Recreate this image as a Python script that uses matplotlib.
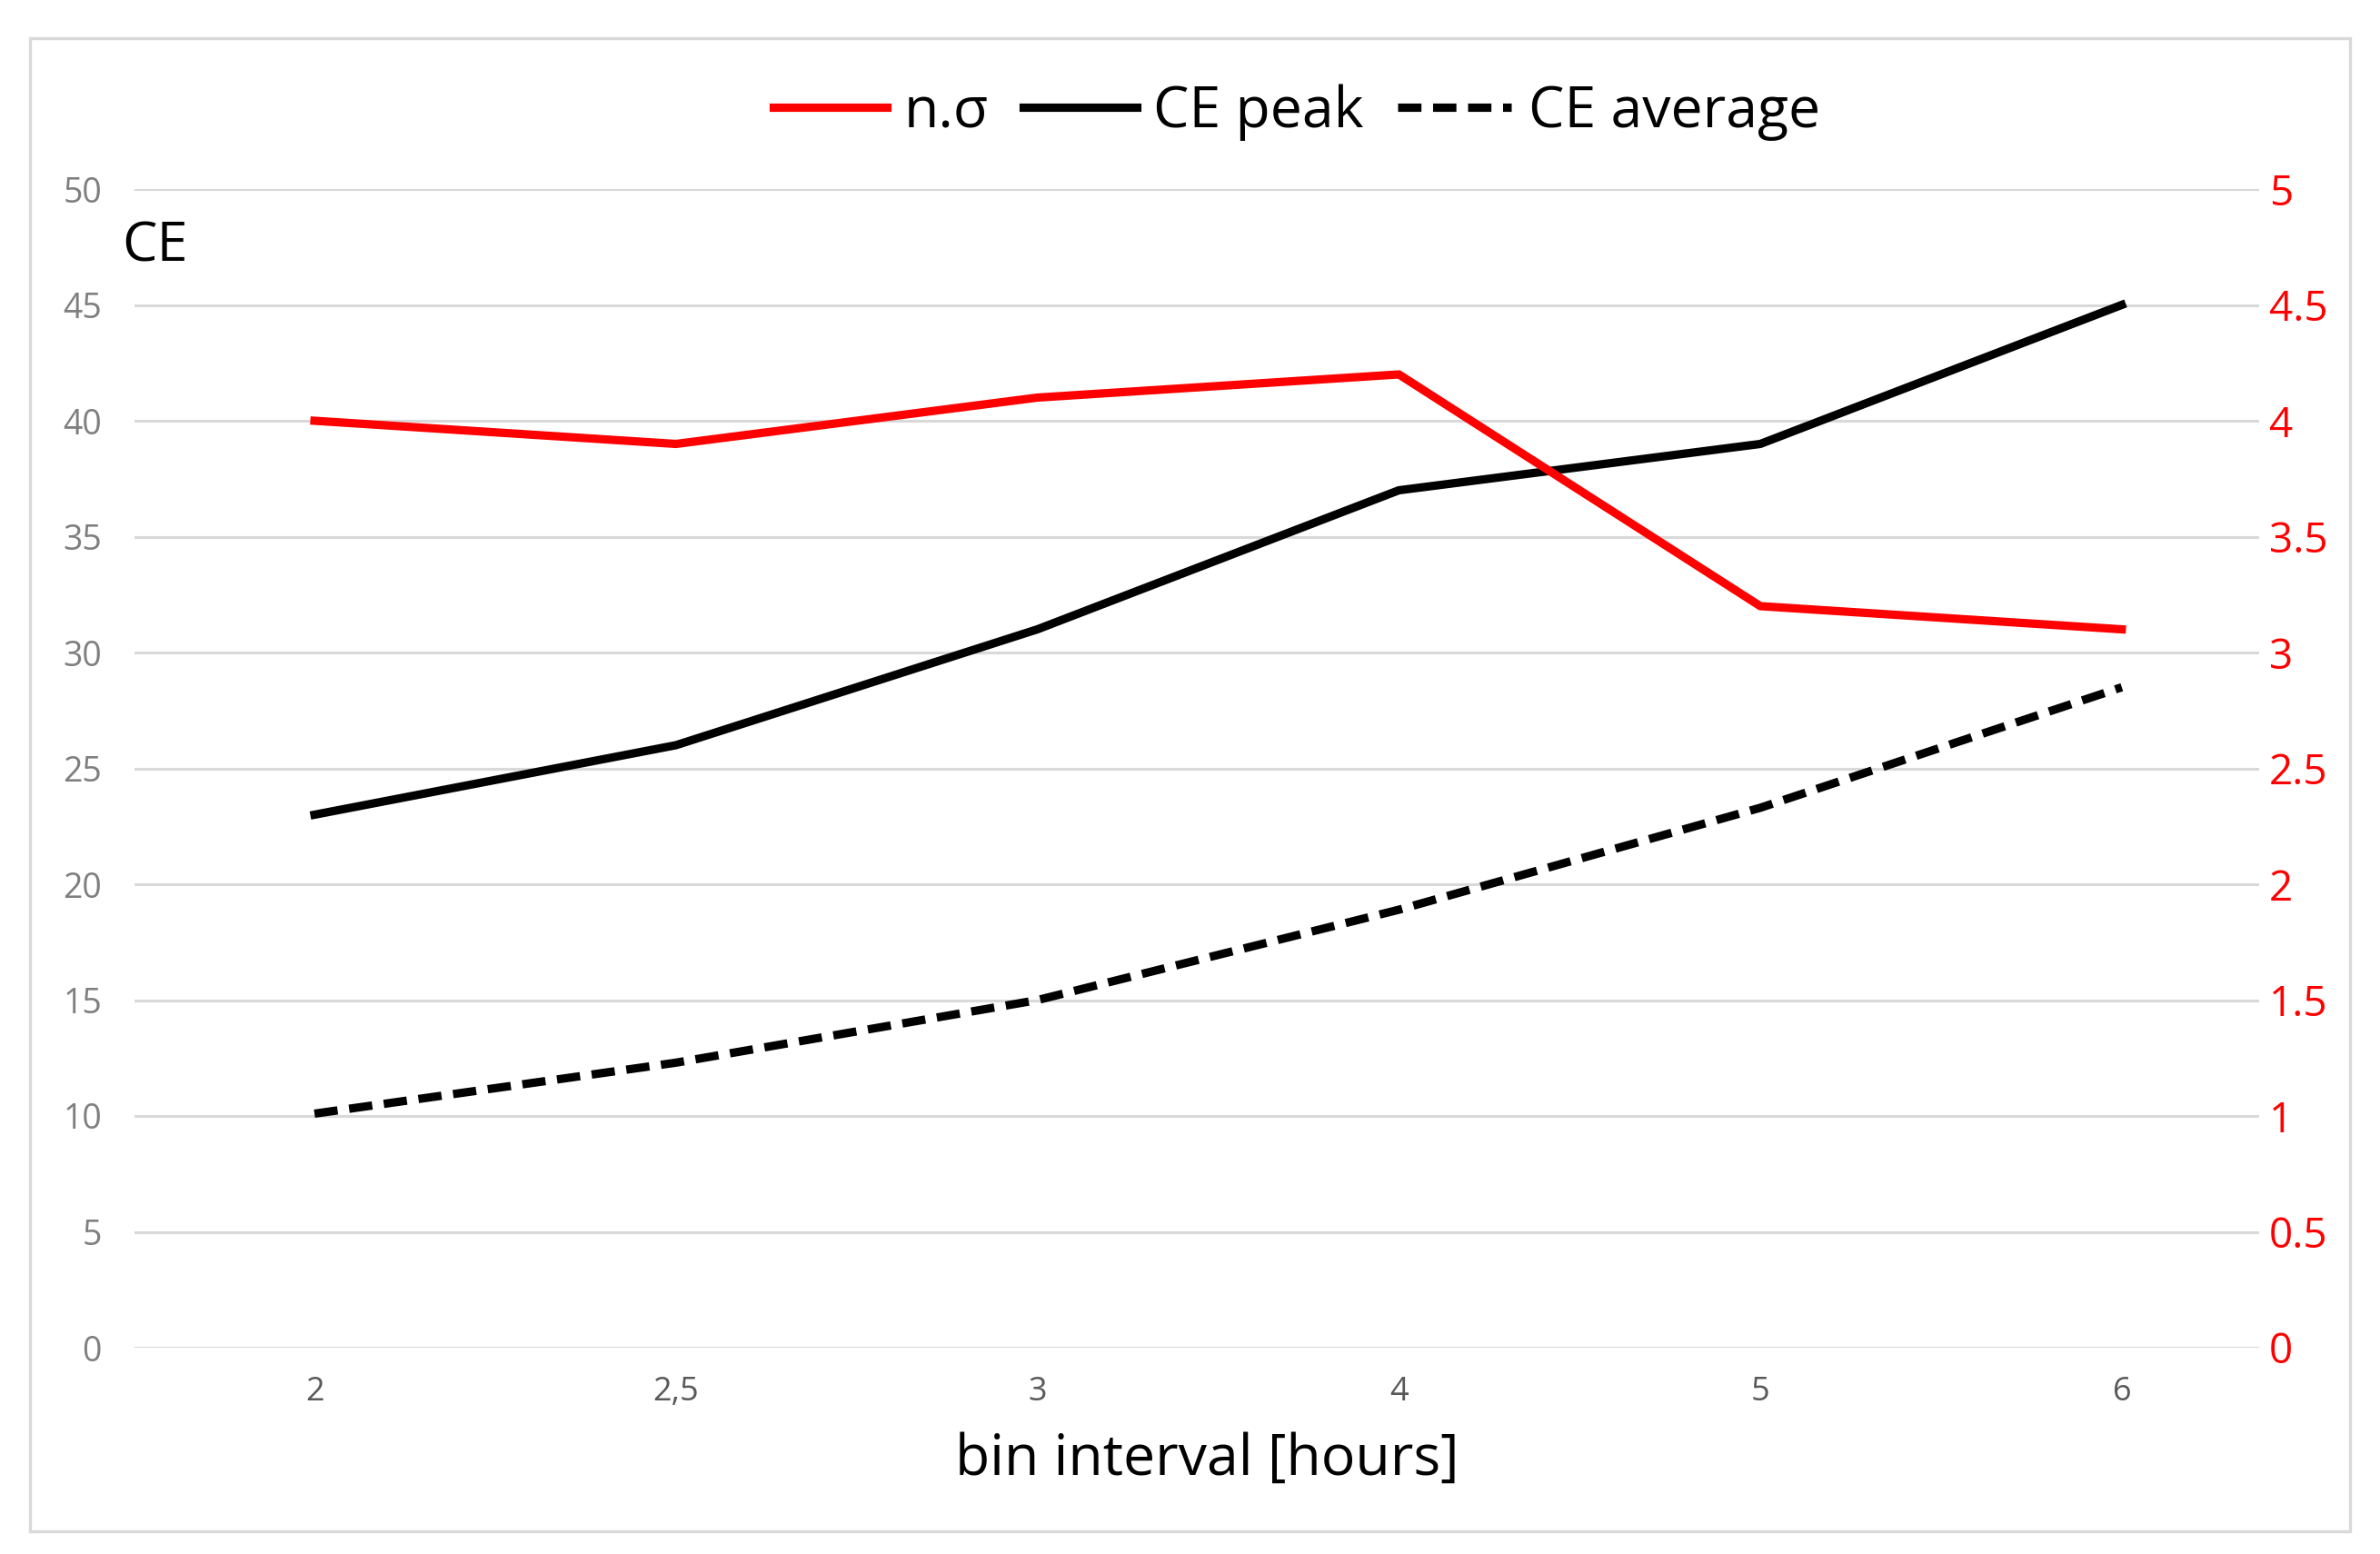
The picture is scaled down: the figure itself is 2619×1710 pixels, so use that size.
import numpy as np
import matplotlib
matplotlib.use("Agg")
import matplotlib.pyplot as plt
from matplotlib.patches import Rectangle

# -------------------------
# dados
# -------------------------
categorias = ["2", "2,5", "3", "4", "5", "6"]
n_sigma = [4.0, 3.9, 4.1, 4.2, 3.2, 3.1]
ce_peak = [23, 26, 31, 37, 39, 45]
ce_average = [10.1, 12.3, 15.0, 18.9, 23.3, 28.5]

ticks_esq = [0, 5, 10, 15, 20, 25, 30, 35, 40, 45, 50]
ticks_dir = [0, 0.5, 1, 1.5, 2, 2.5, 3, 3.5, 4, 4.5, 5]
labels_dir = ["0", "0.5", "1", "1.5", "2", "2.5", "3", "3.5", "4", "4.5", "5"]

plt.rcParams['font.family'] = ['Open Sans', 'DejaVu Sans']

W, H, DPI = 2619, 1710, 200
fig = plt.figure(figsize=(W / DPI, H / DPI), dpi=DPI)

# moldura externa
fig.patches.append(Rectangle((33 / W, 1 - 1685 / H), (2586 - 33) / W, (1685 - 42) / H,
                             transform=fig.transFigure, fill=False,
                             edgecolor="#d9d9d9", linewidth=1.2))

ax = fig.add_axes([148 / W, 1 - 1483 / H, (2486 - 148) / W, (1483 - 208) / H])
ax2 = ax.twinx()

x = np.arange(len(categorias))

ax.set_ylim(0, 50)
ax2.set_ylim(0, 5)
ax.set_xlim(-0.498, 5.38)

ax.set_yticks(ticks_esq)
ax.set_yticklabels([str(t) for t in ticks_esq])
ax2.set_yticks(ticks_dir)
ax2.set_yticklabels(labels_dir)
ax.set_xticks(x)
ax.set_xticklabels(categorias)

ax.grid(axis="y", color="#d9d9d9", linewidth=1.1)
ax.set_axisbelow(True)

for a in (ax, ax2):
    for s in a.spines.values():
        s.set_visible(False)

ax.tick_params(axis="y", length=0, pad=13, labelsize=13.5, labelcolor="#7f7f7f")
ax.tick_params(axis="x", length=0, pad=11, labelsize=13, labelcolor="#595959")
for lbl in ax.get_xticklabels():
    lbl.set_family(['Liberation Sans Narrow', 'Open Sans'])
ax2.tick_params(axis="y", length=0, pad=4, labelsize=16.5, labelcolor="#ff0000")

# -------------------------
# linhas
# -------------------------
l_peak, = ax.plot(x, ce_peak, color="black", linewidth=3.3, solid_joinstyle="round")
l_avg, = ax.plot(x, ce_average, color="black", linewidth=3.3, linestyle=(0, (2.8, 1.4)),
                 dash_capstyle="butt")
l_sig, = ax2.plot(x, n_sigma, color="#ff0000", linewidth=3.3, solid_joinstyle="round")

fig.legend([l_sig, l_peak, l_avg], ["n.σ", "CE peak", "CE average"],
           loc="center", bbox_to_anchor=(0.545, 1 - 124 / H), ncol=3, frameon=False,
           fontsize=22.5, handlelength=2.0, handletextpad=0.3, columnspacing=0.6)

fig.text(134 / W, 1 - 272 / H, "CE", fontsize=22, ha="left", va="center")
fig.text(1328 / W, 1 - 1607 / H, "bin interval [hours]", fontsize=22.5, ha="center", va="center")

fig.savefig("out.png", dpi=DPI)
